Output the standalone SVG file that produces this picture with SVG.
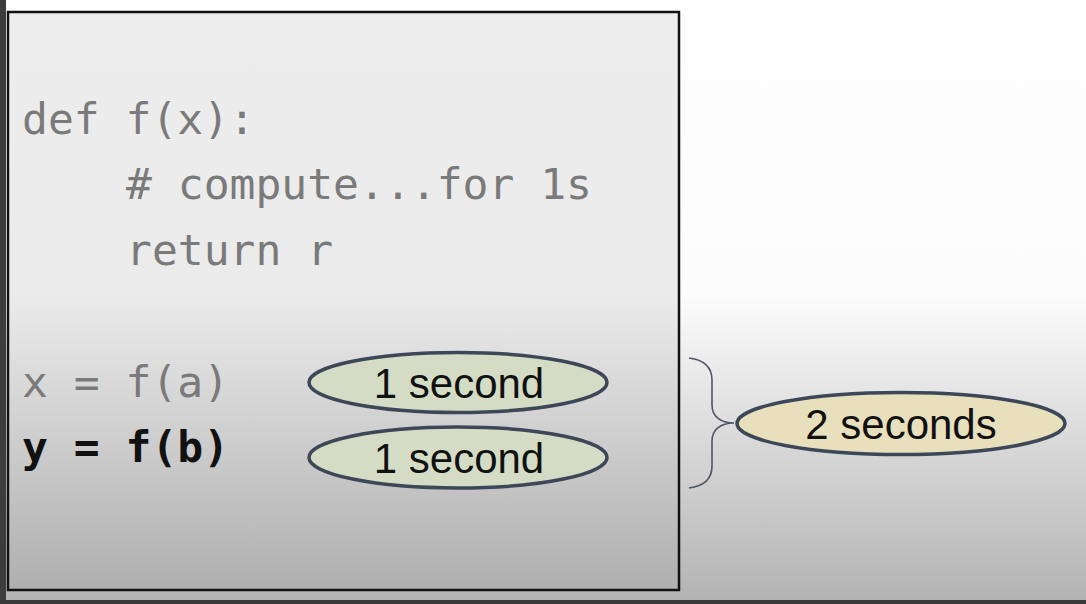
<svg xmlns="http://www.w3.org/2000/svg" width="1086" height="604" viewBox="0 0 1086 604">
<style>
.code{font-family:"DejaVu Sans Mono","Liberation Mono",monospace;font-size:43px;fill:#7a7a7a}
.bold{font-weight:bold;fill:#111}
.lbl{font-family:"Liberation Sans",Arial,sans-serif;font-size:42px;fill:#111;text-anchor:middle}
.ell{stroke:#3c4757;stroke-width:3.5}
</style>
<defs>
<linearGradient id="bg" x1="0" y1="0" x2="0" y2="604" gradientUnits="userSpaceOnUse">
<stop offset="0" stop-color="#fefefe"/>
<stop offset="0.49" stop-color="#fcfcfc"/>
<stop offset="1" stop-color="#b2b2b2"/>
</linearGradient>
<linearGradient id="boxbg" x1="0" y1="12" x2="0" y2="590" gradientUnits="userSpaceOnUse">
<stop offset="0" stop-color="#ededed"/>
<stop offset="0.49" stop-color="#ebebeb"/>
<stop offset="1" stop-color="#afafaf"/>
</linearGradient>
</defs>
<rect x="0" y="0" width="1086" height="604" fill="url(#bg)"/>
<rect x="0" y="0" width="6" height="604" fill="#3c3c3c"/>
<rect x="0" y="600" width="1086" height="4" fill="#3a3a3a"/>
<g id="code-box">
<rect x="8" y="12" width="671" height="578" fill="url(#boxbg)" stroke="#111" stroke-width="2.5"/>
<text class="code" x="22" y="134">def f(x):</text>
<text class="code" x="126" y="199"># compute...for 1s</text>
<text class="code" x="126" y="265">return r</text>
<text class="code" x="22" y="397">x = f(a)</text>
<text class="code bold" x="22" y="462">y = f(b)</text>
</g>
<g id="t1">
<ellipse class="ell" cx="458" cy="382.5" rx="149" ry="30" fill="#d5dcc6"/>
<text class="lbl" x="459" y="398">1 second</text>
</g>
<g id="t2">
<ellipse class="ell" cx="458" cy="457.5" rx="149" ry="30.5" fill="#d5dcc6"/>
<text class="lbl" x="459" y="473">1 second</text>
</g>
<g id="total">
<ellipse class="ell" cx="901" cy="423.5" rx="164" ry="31" fill="#e8dfbd"/>
<text class="lbl" x="901" y="439">2 seconds</text>
</g>
<g id="connectors">
<path d="M689,358 C705,360 712,368 712,380 L712,405 C712,416 720,423 734,423 C720,423 712,430 712,441 L712,466 C712,478 705,486 689,488" fill="none" stroke="#4e5564" stroke-width="1.6"/>
</g>
</svg>
